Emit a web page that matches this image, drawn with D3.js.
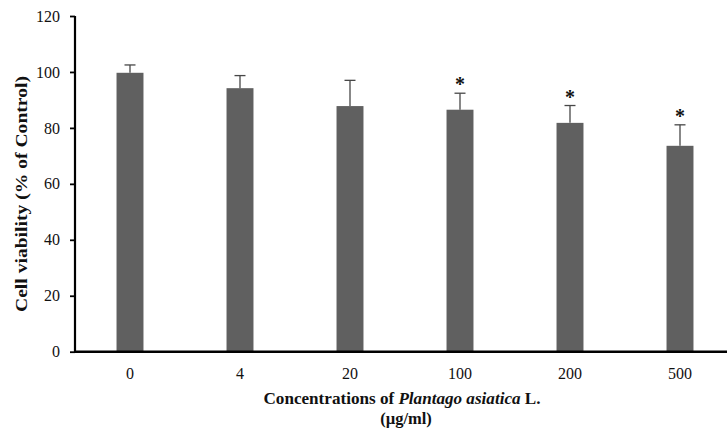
<!DOCTYPE html>
<html>
<head>
<meta charset="utf-8">
<script src="https://cdn.jsdelivr.net/npm/d3@7"></script>
<style>
  body { margin: 0; background: #fff; }
  text { font-family: 'Liberation Serif', 'Times New Roman', serif; }
</style>
</head>
<body>
<div id="chart"></div>
<script>
const concentrations = ['0', '4', '20', '100', '200', '500']
const viability = [99.7, 94.2, 87.8, 86.5, 81.8, 73.6]
const errors = [2.8, 4.5, 9.2, 5.9, 6.2, 7.5]
const significant = [false, false, false, true, true, true]
const yTicks = [0, 20, 40, 60, 80, 100, 120]

const width = 727
const height = 435
const margin = { top: 16, left: 75, right: -8, bottom: 83 }

const svg = d3.select('#chart')
  .append('svg')
  .attr('width', width)
  .attr('height', height)

const x = d3.scaleBand()
  .domain(concentrations)
  .range([margin.left, width - margin.right])
  .paddingInner(0.755)
  .paddingOuter(0.3775)

const y = d3.scaleLinear()
  .domain([0, 120])
  .range([height - margin.bottom - 0.3, margin.top])

const data = concentrations.map((c, i) => ({
  c, v: viability[i], e: errors[i], sig: significant[i]
}))

// bars
svg.selectAll('.bar')
  .data(data)
  .enter()
  .append('rect')
  .attr('class', 'bar')
  .attr('x', d => x(d.c))
  .attr('y', d => y(d.v))
  .attr('width', x.bandwidth())
  .attr('height', d => y(0) - y(d.v))
  .attr('fill', '#606060')

// error bars (upper only)
const err = svg.selectAll('.err')
  .data(data)
  .enter()
  .append('g')
  .attr('class', 'err')
  .attr('stroke', '#474747')
  .attr('stroke-width', 1.3)

err.append('line')
  .attr('x1', d => x(d.c) + x.bandwidth() / 2)
  .attr('x2', d => x(d.c) + x.bandwidth() / 2)
  .attr('y1', d => y(d.v))
  .attr('y2', d => y(d.v + d.e))

err.append('line')
  .attr('x1', d => x(d.c) + x.bandwidth() / 2 - 5.5)
  .attr('x2', d => x(d.c) + x.bandwidth() / 2 + 5.5)
  .attr('y1', d => y(d.v + d.e))
  .attr('y2', d => y(d.v + d.e))

// significance stars
svg.selectAll('.star')
  .data(data.filter(d => d.sig))
  .enter()
  .append('text')
  .attr('class', 'star')
  .attr('x', d => x(d.c) + x.bandwidth() / 2)
  .attr('y', d => y(d.v + d.e) - 2)
  .attr('text-anchor', 'middle')
  .attr('font-size', 20)
  .attr('font-weight', 'bold')
  .attr('fill', '#111')
  .text('*')

// y axis
const yAxis = svg.append('g')
  .attr('transform', `translate(${margin.left},0)`)
  .call(d3.axisLeft(y).tickValues(yTicks).tickSize(5).tickPadding(10))
yAxis.select('.domain').attr('stroke-width', 2.2).attr('d', `M0,${y(120)}V${y(0)}`)
yAxis.selectAll('.tick line').attr('stroke-width', 1.8)
yAxis.selectAll('.tick text')
  .attr('font-size', 16)
  .attr('font-family', "'Liberation Serif', serif")
  .attr('fill', '#111')

// x axis
const xAxis = svg.append('g')
  .attr('transform', `translate(0,${y(0)})`)
  .call(d3.axisBottom(x).tickSize(0).tickPadding(16))
xAxis.select('.domain').attr('stroke-width', 2.6).attr('d', `M${margin.left - 1},0H${width}`)
xAxis.selectAll('.tick text')
  .attr('font-size', 16)
  .attr('font-family', "'Liberation Serif', serif")
  .attr('fill', '#111')

// axis titles
const xTitle = svg.append('text')
  .attr('x', 402)
  .attr('y', 404)
  .attr('text-anchor', 'middle')
  .attr('font-size', 16)
  .attr('font-weight', 'bold')
  .attr('fill', '#111')
  .attr('textLength', 277)
  .attr('lengthAdjust', 'spacingAndGlyphs')
xTitle.append('tspan').text('Concentrations of ')
xTitle.append('tspan').attr('font-style', 'italic').text('Plantago asiatica')
xTitle.append('tspan').text(' L.')

svg.append('text')
  .attr('x', 406)
  .attr('y', 424)
  .attr('text-anchor', 'middle')
  .attr('font-size', 16.5)
  .attr('font-weight', 'bold')
  .attr('fill', '#111')
  .text('(µg/ml)')

svg.append('text')
  .attr('transform', 'translate(27,194) rotate(-90)')
  .attr('text-anchor', 'middle')
  .attr('font-size', 17)
  .attr('font-weight', 'bold')
  .attr('fill', '#111')
  .attr('textLength', 236)
  .attr('lengthAdjust', 'spacingAndGlyphs')
  .text('Cell viability (% of Control)')
</script>
</body>
</html>
